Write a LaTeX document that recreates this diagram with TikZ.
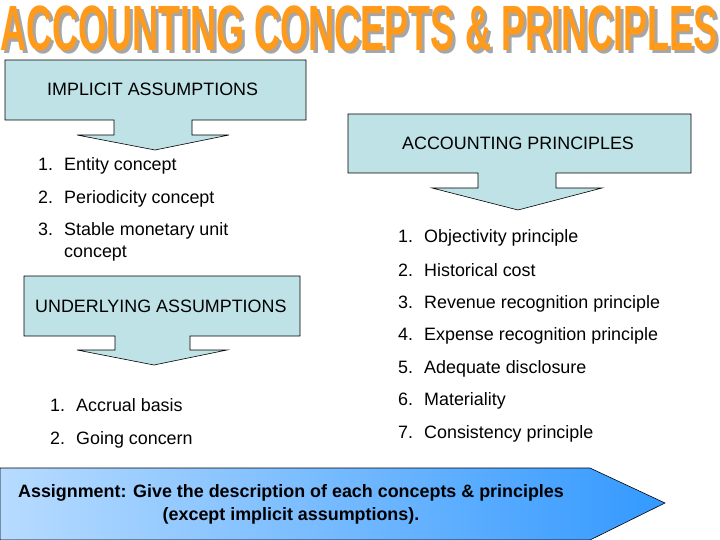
\documentclass[tikz,border=0pt]{standalone}
\usepackage{fontspec}
\setmainfont{Liberation Sans}
\begin{document}
\begin{tikzpicture}[x=1pt,y=-1pt,
  box/.style={draw=black,fill=boxblue,line width=0.6pt},
  lbl/.style={font=\fontsize{17.9}{21}\selectfont,anchor=base west,inner sep=0pt},
  ttl/.style={font=\fontsize{64}{64}\selectfont\bfseries,inner sep=0pt}]
\definecolor{boxblue}{HTML}{BFE2E6}
\definecolor{arrblue}{HTML}{3399FF}
\definecolor{ttlorange}{HTML}{FF9A1A}
\useasboundingbox (0,0) rectangle (720,540);
% title
\node[ttl,text=gray!70,xscale=0.563] (tshadow) at (362,31) {ACCOUNTING CONCEPTS \& PRINCIPLES};
\node[ttl,text=ttlorange,xscale=0.563] (title) at (359,28) {ACCOUNTING CONCEPTS \& PRINCIPLES};
% implicit callout
\draw[box] (5,60) -- (306,60) -- (306,120) -- (192,120) -- (192,135) -- (229,135) -- (155,150) -- (77,135) -- (114,135) -- (114,120) -- (5,120) -- cycle;
\node[lbl] (impl) at (47,96) {IMPLICIT ASSUMPTIONS};
% principles callout
\draw[box] (348,114) -- (691,114) -- (691,173) -- (556,173) -- (556,188) -- (602,188) -- (518,210) -- (432,188) -- (478,188) -- (478,173) -- (348,173) -- cycle;
\node[lbl] (princ) at (402,150) {ACCOUNTING PRINCIPLES};
% underlying callout
\draw[box] (24,276) -- (300,276) -- (300,336) -- (190,336) -- (190,350) -- (227,350) -- (154,365) -- (77,350) -- (115,350) -- (115,336) -- (24,336) -- cycle;
\node[lbl] (under) at (35,312) {UNDERLYING ASSUMPTIONS};
% left list
\node[lbl] (l1n) at (38,171) {1.}; \node[lbl] (l1) at (64,171) {Entity concept};
\node[lbl] (l2n) at (38,204) {2.}; \node[lbl] (l2) at (64,204) {Periodicity concept};
\node[lbl] (l3n) at (38,236) {3.}; \node[lbl] (l3) at (64,236) {Stable monetary unit};
\node[lbl] (l3b) at (64,258) {concept};
\node[lbl] (u1n) at (50,411) {1.}; \node[lbl] (u1) at (76,411) {Accrual basis};
\node[lbl] (u2n) at (50,444) {2.}; \node[lbl] (u2) at (76,444) {Going concern};
% right list
\foreach \n/\t/\y in {1/Objectivity principle/243,2/Historical cost/276,3/Revenue recognition principle/308,4/Expense recognition principle/340,5/Adequate disclosure/373,6/Materiality/405,7/Consistency principle/438}{
  \node[lbl] (r\n n) at (398,\y) {\n.};
  \node[lbl] (r\n) at (424,\y) {\t};
}
% assignment arrow
\shade[left color=arrblue!35,right color=arrblue,draw=black,line width=0.6pt] (0,468) -- (590,468) -- (665,503) -- (590,540) -- (0,540) -- cycle;
\node[font=\fontsize{17.9}{23}\selectfont\bfseries,align=center,inner sep=0pt] (assign) at (291,504) {Assignment: Give the description of each concepts \& principles\\(except implicit assumptions).};
\end{tikzpicture}
\end{document}
